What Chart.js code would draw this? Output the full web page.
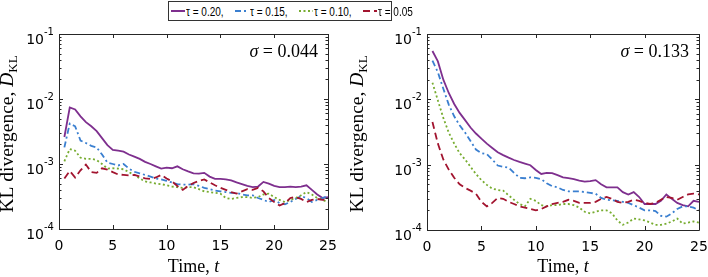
<!DOCTYPE html>
<html>
<head>
<meta charset="utf-8">
<script src="https://cdn.jsdelivr.net/npm/chart.js@4.4.0/dist/chart.umd.min.js"></script>
<style>
  html, body { margin: 0; padding: 0; background: #fff; }
  body { width: 708px; height: 277px; position: relative; overflow: hidden; }
  #left { position: absolute; left: 0; top: 0; }
  #right { position: absolute; left: 345px; top: 0; }
  #legend {
    position: absolute; left: 168px; top: 1px; width: 224px; height: 20px; box-sizing: border-box;
    border: 1px solid #333; background: #fff; display: flex; align-items: center;
    padding-left: 2px;
    font: 13px "Liberation Sans", Arial, sans-serif; color: #000;
    z-index: 2;
  }
  #legend .item { display: flex; align-items: center; white-space: nowrap; flex: 0 0 56.5px; }
  #legend .item:last-child { flex-basis: 50px; }
  #legend svg { margin-right: 1px; flex: 0 0 14px; }
  #legend .txt { display: inline-block; transform: scaleX(0.77); transform-origin: 0 50%; }
</style>
</head>
<body>
<div id="legend"></div>
<canvas id="left" width="345" height="277"></canvas>
<canvas id="right" width="363" height="277"></canvas>
<script>
// time grid
const times = [0.5, 1, 1.5, 2, 2.5, 3, 3.5, 4, 4.5, 5, 5.5, 6, 6.5, 7, 7.5, 8, 8.5, 9, 9.5, 10,
  10.5, 11, 11.5, 12, 12.5, 13, 13.5, 14, 14.5, 15, 15.5, 16, 16.5, 17, 17.5, 18, 18.5, 19, 19.5, 20,
  20.5, 21, 21.5, 22, 22.5, 23, 23.5, 24, 24.5, 25];

const tauLabels = ['0.20', '0.15', '0.10', '0.05'];
const sigmaLabels = ['0.044', '0.133'];
const xTicks = [0, 5, 10, 15, 20, 25];
const yTicks = [1e-4, 1e-3, 1e-2, 1e-1];
const yTickExps = ['-4', '-3', '-2', '-1'];

// sigma = 0.044
const left20 = [2.6e-3, 7.4e-3, 6.9e-3, 5.4e-3, 4.4e-3, 3.8e-3, 3.2e-3, 2.5e-3, 1.95e-3, 1.65e-3,
  1.6e-3, 1.55e-3, 1.4e-3, 1.3e-3, 1.2e-3, 1.08e-3, 1.0e-3, 9.2e-4, 8.5e-4, 8.8e-4,
  8.6e-4, 9.2e-4, 8.3e-4, 7.7e-4, 7.2e-4, 7.1e-4, 7.3e-4, 6.4e-4, 5.9e-4, 5.9e-4,
  5.8e-4, 5.6e-4, 5.2e-4, 4.9e-4, 4.6e-4, 4.4e-4, 4.5e-4, 5.3e-4, 5.0e-4, 4.6e-4,
  4.4e-4, 4.4e-4, 4.5e-4, 4.4e-4, 4.5e-4, 4.7e-4, 4.0e-4, 3.4e-4, 3.0e-4, 3.1e-4];
const left15 = [1.8e-3, 4.2e-3, 3.8e-3, 2.3e-3, 2.1e-3, 1.9e-3, 1.8e-3, 1.4e-3, 1.05e-3, 1.0e-3,
  9.5e-4, 1.0e-3, 8.5e-4, 7.6e-4, 7.2e-4, 6.8e-4, 6.4e-4, 6.0e-4, 5.8e-4, 5.5e-4,
  5.2e-4, 4.9e-4, 4.8e-4, 4.8e-4, 4.9e-4, 4.6e-4, 4.3e-4, 4.1e-4, 3.9e-4, 3.8e-4,
  3.7e-4, 3.6e-4, 3.6e-4, 3.4e-4, 3.3e-4, 3.3e-4, 3.0e-4, 2.8e-4, 2.6e-4, 2.8e-4,
  2.5e-4, 2.4e-4, 2.6e-4, 2.9e-4, 3.2e-4, 3.0e-4, 2.6e-4, 2.8e-4, 3.0e-4, 3.2e-4];
const left10 = [1.1e-3, 1.7e-3, 1.6e-3, 1.25e-3, 1.2e-3, 1.2e-3, 1.15e-3, 1.0e-3, 8.5e-4, 8.6e-4,
  8.5e-4, 8.3e-4, 7.5e-4, 6.8e-4, 6.0e-4, 5.4e-4, 5.2e-4, 5.0e-4, 4.9e-4, 4.7e-4,
  4.5e-4, 4.4e-4, 4.3e-4, 4.4e-4, 4.4e-4, 4.1e-4, 3.8e-4, 3.7e-4, 3.6e-4, 3.5e-4,
  3.0e-4, 2.9e-4, 3.0e-4, 3.1e-4, 3.1e-4, 3.0e-4, 3.1e-4, 3.4e-4, 3.5e-4, 3.1e-4,
  2.8e-4, 2.6e-4, 2.8e-4, 3.0e-4, 3.3e-4, 3.7e-4, 3.4e-4, 3.0e-4, 2.8e-4, 2.6e-4];
const left05 = [6.0e-4, 7.8e-4, 6.2e-4, 8.0e-4, 9.8e-4, 7.5e-4, 7.3e-4, 8.6e-4, 8.2e-4, 7.5e-4,
  6.9e-4, 6.8e-4, 6.7e-4, 6.8e-4, 6.4e-4, 6.0e-4, 5.9e-4, 6.2e-4, 6.8e-4, 6.0e-4,
  5.4e-4, 4.6e-4, 4.0e-4, 4.6e-4, 5.1e-4, 5.5e-4, 5.8e-4, 5.2e-4, 4.7e-4, 4.3e-4,
  4.0e-4, 3.7e-4, 3.5e-4, 3.8e-4, 4.1e-4, 4.0e-4, 4.3e-4, 3.8e-4, 3.0e-4, 2.6e-4,
  2.3e-4, 2.5e-4, 3.0e-4, 3.1e-4, 2.9e-4, 2.6e-4, 2.8e-4, 2.9e-4, 2.8e-4, 2.8e-4];

// sigma = 0.133
const right20 = [5.5e-2, 3.8e-2, 2.0e-2, 1.25e-2, 8.5e-3, 6.2e-3, 4.8e-3, 3.7e-3, 3.0e-3, 2.5e-3,
  2.1e-3, 1.8e-3, 1.55e-3, 1.4e-3, 1.28e-3, 1.18e-3, 1.1e-3, 1.04e-3, 9.8e-4, 8.3e-4,
  7.2e-4, 7.5e-4, 7.4e-4, 6.9e-4, 6.4e-4, 6.2e-4, 6.0e-4, 5.7e-4, 5.5e-4, 5.6e-4,
  5.8e-4, 5.0e-4, 4.5e-4, 4.5e-4, 4.5e-4, 3.8e-4, 3.5e-4, 3.8e-4, 3.2e-4, 2.5e-4,
  2.5e-4, 2.5e-4, 2.8e-4, 3.5e-4, 3.0e-4, 2.6e-4, 2.4e-4, 2.3e-4, 2.8e-4, 2.7e-4];
const right15 = [3.9e-2, 2.6e-2, 1.45e-2, 8.3e-3, 5.5e-3, 4.0e-3, 3.1e-3, 2.3e-3, 1.7e-3, 1.5e-3,
  1.45e-3, 1.2e-3, 9.7e-4, 9.3e-4, 9.0e-4, 7.5e-4, 6.3e-4, 6.2e-4, 6.4e-4, 6.3e-4,
  6.0e-4, 5.2e-4, 4.7e-4, 4.5e-4, 4.1e-4, 3.9e-4, 3.9e-4, 3.9e-4, 3.8e-4, 3.7e-4,
  3.6e-4, 3.1e-4, 2.9e-4, 2.85e-4, 2.8e-4, 2.7e-4, 2.6e-4, 2.4e-4, 2.2e-4, 2.0e-4,
  2.0e-4, 1.95e-4, 1.65e-4, 1.6e-4, 1.8e-4, 2.1e-4, 2.3e-4, 2.3e-4, 2.2e-4, 2.0e-4];
const right10 = [1.8e-2, 9.6e-3, 5.2e-3, 3.1e-3, 2.1e-3, 1.5e-3, 1.2e-3, 9.3e-4, 7.2e-4, 5.8e-4,
  4.9e-4, 4.3e-4, 4.1e-4, 4.0e-4, 3.4e-4, 2.9e-4, 2.5e-4, 2.3e-4, 3.0e-4, 2.8e-4,
  2.4e-4, 2.3e-4, 2.4e-4, 2.4e-4, 2.5e-4, 2.5e-4, 2.4e-4, 2.2e-4, 1.9e-4, 1.8e-4,
  1.9e-4, 2.0e-4, 2.0e-4, 1.8e-4, 1.4e-4, 1.2e-4, 1.3e-4, 1.5e-4, 1.45e-4, 1.4e-4,
  1.3e-4, 1.2e-4, 1.2e-4, 1.25e-4, 1.35e-4, 1.5e-4, 1.25e-4, 1.3e-4, 1.35e-4, 1.3e-4];
const right05 = [4.5e-3, 2.1e-3, 1.2e-3, 8.4e-4, 6.3e-4, 5.0e-4, 4.4e-4, 4.0e-4, 3.6e-4, 2.7e-4,
  2.3e-4, 2.6e-4, 3.1e-4, 3.0e-4, 2.7e-4, 2.5e-4, 2.3e-4, 2.2e-4, 2.1e-4, 2.0e-4,
  2.1e-4, 2.3e-4, 2.5e-4, 2.6e-4, 2.7e-4, 2.9e-4, 2.8e-4, 2.6e-4, 2.6e-4, 2.6e-4,
  2.7e-4, 3.0e-4, 3.2e-4, 3.0e-4, 2.7e-4, 2.6e-4, 2.7e-4, 2.9e-4, 2.8e-4, 2.6e-4,
  2.5e-4, 2.6e-4, 2.9e-4, 3.2e-4, 3.1e-4, 2.9e-4, 3.2e-4, 3.5e-4, 3.6e-4, 3.5e-4];

const colors = ['#7E2F8E', '#3A7FD0', '#77AC30', '#A2142F'];
const dashes = [[], [6, 3, 2, 3], [2, 2.5], [7, 4]];

const serif = '"Liberation Serif", "Times New Roman", serif';
const sans = '"DejaVu Sans", sans-serif';

// draws a run of text pieces [text, font, dy] starting at x (align: left/center/right)
function drawParts(ctx, x, y, parts, align) {
  let w = 0;
  parts.forEach(p => { ctx.font = p[1]; w += ctx.measureText(p[0]).width; });
  let cx = align === 'center' ? x - w / 2 : (align === 'right' ? x - w : x);
  ctx.textAlign = 'left';
  ctx.textBaseline = 'alphabetic';
  parts.forEach(p => {
    ctx.font = p[1];
    ctx.fillText(p[0], cx, y + (p[2] || 0));
    cx += ctx.measureText(p[0]).width;
  });
}

// box, inward ticks, tick labels, titles (MATLAB look)
const frame = {
  id: 'frame',
  afterDraw(chart, args, opts) {
    const { ctx, chartArea: a, scales: { x, y } } = chart;
    ctx.save();
    ctx.strokeStyle = '#262626';
    ctx.fillStyle = '#000';
    ctx.lineWidth = 1;
    ctx.beginPath();
    ctx.rect(Math.round(a.left) + 0.5, Math.round(a.top) + 0.5, Math.round(a.right - a.left), Math.round(a.bottom - a.top));
    xTicks.forEach(v => {
      const p = Math.round(x.getPixelForValue(v)) + 0.5;
      ctx.moveTo(p, a.bottom); ctx.lineTo(p, a.bottom - 4);
      ctx.moveTo(p, a.top); ctx.lineTo(p, a.top + 4);
    });
    yTicks.forEach((v, i) => {
      const marks = [[v, 4]];
      if (i < yTicks.length - 1) {
        for (let m = 2; m <= 9; m++) marks.push([v * m, 2.5]);
      }
      marks.forEach(([val, len]) => {
        const p = Math.round(y.getPixelForValue(val)) + 0.5;
        ctx.moveTo(a.left, p); ctx.lineTo(a.left + len, p);
        ctx.moveTo(a.right, p); ctx.lineTo(a.right - len, p);
      });
    });
    ctx.stroke();

    // tick labels
    ctx.textBaseline = 'alphabetic';
    xTicks.forEach(v => {
      ctx.font = '14px ' + sans;
      ctx.textAlign = 'center';
      ctx.fillText(String(v), x.getPixelForValue(v), a.bottom + 21);
    });
    yTicks.forEach((v, i) => {
      const p = y.getPixelForValue(v);
      const xr = a.left - 15;
      ctx.font = '14px ' + sans;
      ctx.textAlign = 'right';
      ctx.fillText('10', xr, p + 10);
      ctx.font = '10px ' + sans;
      ctx.textAlign = 'left';
      ctx.fillText(yTickExps[i], xr, p + 1);
    });

    // axis titles
    const cx = (a.left + a.right) / 2;
    drawParts(ctx, cx, 272, [['Time, ', '18px ' + serif], ['t', 'italic 18px ' + serif]], 'center');

    ctx.save();
    ctx.translate(opts.titleX, 134);
    ctx.rotate(-Math.PI / 2);
    drawParts(ctx, 0, 0, [
      ['KL divergence, ', '19.5px ' + serif],
      ['D', 'italic 19.5px ' + serif],
      ['KL', '13px ' + serif, 4]
    ], 'center');
    ctx.restore();

    // sigma annotation
    drawParts(ctx, a.right - 10, 57, [
      ['σ', 'italic 18px ' + serif],
      [' = ' + opts.sigma, '18px ' + serif]
    ], 'right');
    ctx.restore();
  }
};

function makeChart(id, series, sigma, padding, titleX) {
  new Chart(document.getElementById(id), {
    type: 'line',
    data: {
      datasets: series.map((vals, i) => ({
        label: 'τ = ' + tauLabels[i],
        data: times.map((t, k) => ({ x: t, y: vals[k] })),
        borderColor: colors[i],
        borderDash: dashes[i],
        borderWidth: 1.8,
        pointRadius: 0,
        tension: 0,
        fill: false,
        order: series.length - i
      }))
    },
    options: {
      responsive: false,
      animation: false,
      events: [],
      layout: { padding: padding },
      plugins: {
        legend: { display: false },
        tooltip: { enabled: false },
        frame: { sigma: sigma, titleX: titleX }
      },
      scales: {
        x: { type: 'linear', min: 0, max: 25, display: false },
        y: { type: 'logarithmic', min: 1e-4, max: 1e-1, display: false }
      }
    },
    plugins: [frame]
  });
}

makeChart('left', [left20, left15, left10, left05], sigmaLabels[0],
  { left: 59, top: 34, right: 17, bottom: 48 }, 13);
makeChart('right', [right20, right15, right10, right05], sigmaLabels[1],
  { left: 82, top: 34, right: 9, bottom: 47 }, 18);

// shared legend
const legend = document.getElementById('legend');
tauLabels.forEach((lab, i) => {
  const item = document.createElement('span');
  item.className = 'item';
  const dash = dashes[i].length ? dashes[i].join(' ') : 'none';
  item.innerHTML = '<svg width="14" height="8"><line x1="0" y1="4" x2="14" y2="4" stroke="' + colors[i] +
    '" stroke-width="2" stroke-dasharray="' + dash + '"/></svg>' +
    '<span class="txt">τ = ' + lab + (i < tauLabels.length - 1 ? ',' : '') + '</span>';
  legend.appendChild(item);
});
</script>
</body>
</html>
